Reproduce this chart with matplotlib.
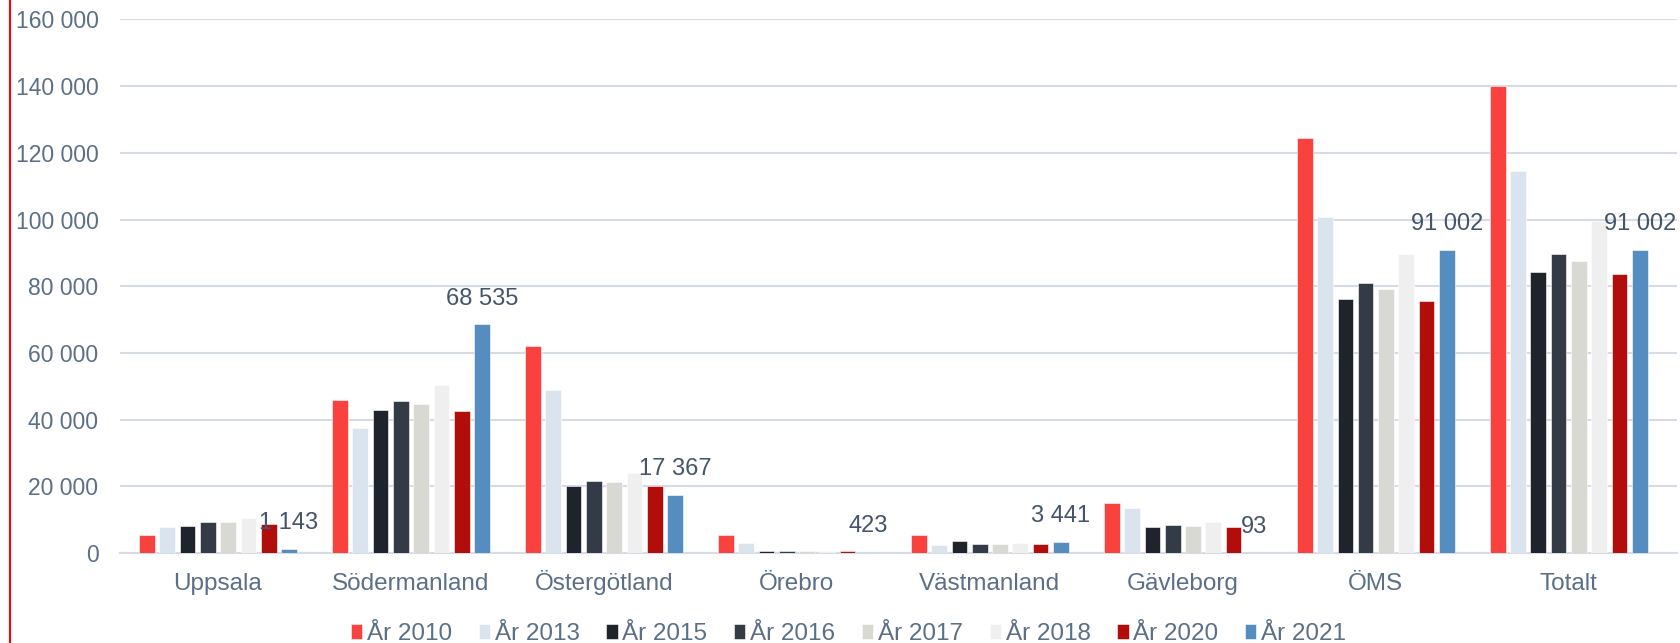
import numpy as np
import matplotlib.pyplot as plt
from matplotlib.lines import Line2D

plt.rcParams['font.family'] = ['Liberation Sans', 'DejaVu Sans']

regions = ['Uppsala', 'Södermanland', 'Östergötland', 'Örebro',
           'Västmanland', 'Gävleborg', 'ÖMS', 'Totalt']
years = ['År 2010', 'År 2013', 'År 2015', 'År 2016',
         'År 2017', 'År 2018', 'År 2020', 'År 2021']

y2010 = [5300, 45800, 62000, 5300, 5400, 15100, 124600, 140000]
y2013 = [7800, 37600, 48800, 3000, 2500, 13400, 100700, 114500]
y2015 = [8000, 43000, 20100, 700, 3500, 7900, 76300, 84400]
y2016 = [9400, 45500, 21700, 700, 2800, 8300, 80900, 89600]
y2017 = [9200, 44600, 21200, 500, 2600, 8200, 79200, 87500]
y2018 = [10500, 50500, 24000, 500, 3000, 9200, 89600, 99500]
y2020 = [8800, 42500, 20200, 600, 2600, 7800, 75700, 83800]
y2021 = [1143, 68535, 17367, 423, 3441, 93, 91002, 91002]

series = [y2010, y2013, y2015, y2016, y2017, y2018, y2020, y2021]
colors = ['#f9423e', '#d9e4ef', '#1f242c', '#333c46',
          '#d9d9d4', '#efefef', '#b10d0b', '#568dc0']

axis_col = '#5b6f86'
label_col = '#44546a'

fig = plt.figure(figsize=(16.8, 6.43), dpi=100)
ax = fig.add_axes([0.0714, 0.14, 0.9266, 0.8297])

x = np.arange(len(regions))
step = 0.1052
width = 0.0813
for i, (vals, c) in enumerate(zip(series, colors)):
    pos = x + (i - 3.5) * step
    ax.bar(pos, vals, width=width, color=c, label=years[i], zorder=3,
           edgecolor='white', linewidth=0.4)

# etiketter för 2021
pos21 = x + 3.5 * step
for p, v in zip(pos21, y2021):
    ax.text(p, v + 7700, f'{v:,}'.replace(',', ' '), ha='center', va='center',
            fontsize=17, color=label_col, zorder=4)

ax.set_xlim(-0.508, 7.559)
ax.set_ylim(0, 160000)
ax.set_yticks(np.arange(0, 160001, 20000))
ax.set_yticklabels([f'{int(t):,}'.replace(',', ' ') for t in ax.get_yticks()])
ax.set_xticks(x)
ax.set_xticklabels(regions)
ax.tick_params(axis='both', length=0, labelcolor=axis_col)
ax.tick_params(axis='y', pad=15.5, labelsize=16.5)
ax.tick_params(axis='x', pad=27, labelsize=17.5)
for t in ax.get_xticklabels():
    t.set_verticalalignment('baseline')
ax.grid(axis='y', color='#d6dce5', linewidth=1.5, zorder=0)
for s in ['top', 'right', 'left']:
    ax.spines[s].set_visible(False)
ax.spines['bottom'].set_color('#d6dce5')
ax.spines['bottom'].set_linewidth(1.5)

leg = ax.legend(loc='center', bbox_to_anchor=(0.468, -0.152), ncol=8,
                frameon=False, fontsize=17.5, handlelength=0.46, handleheight=0.55,
                handletextpad=0.2, columnspacing=1.1, borderpad=0)
for t in leg.get_texts():
    t.set_color(axis_col)

# röd linje i vänsterkanten
fig.add_artist(Line2D([0.006, 0.006], [0, 1], color='red', linewidth=1.5,
                      transform=fig.transFigure))

fig.savefig('out.png', dpi=100)
